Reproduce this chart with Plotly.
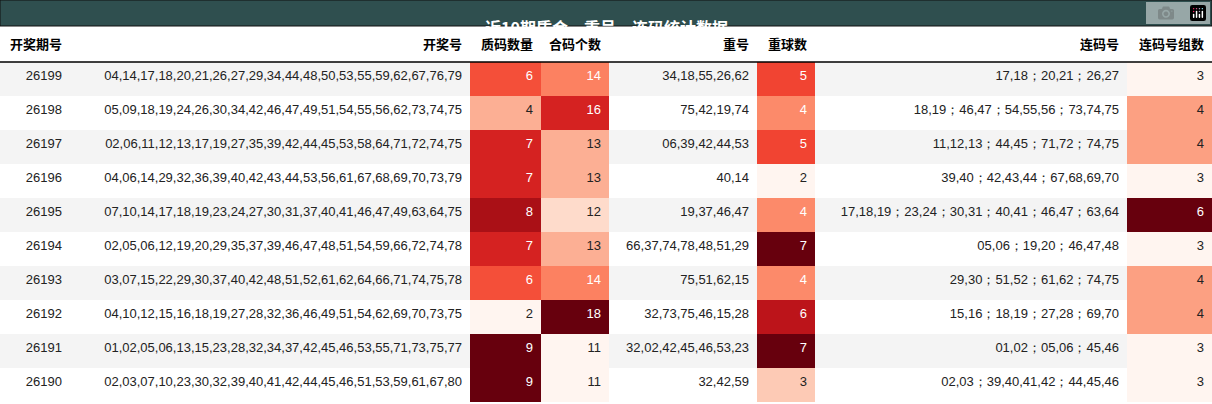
import plotly.graph_objects as go
from plotly.colors import sample_colorscale

# --- Data ---
periods = ["26199", "26198", "26197", "26196", "26195", "26194", "26193", "26192", "26191", "26190"]
draws = [
    "04,14,17,18,20,21,26,27,29,34,44,48,50,53,55,59,62,67,76,79",
    "05,09,18,19,24,26,30,34,42,46,47,49,51,54,55,56,62,73,74,75",
    "02,06,11,12,13,17,19,27,35,39,42,44,45,53,58,64,71,72,74,75",
    "04,06,14,29,32,36,39,40,42,43,44,53,56,61,67,68,69,70,73,79",
    "07,10,14,17,18,19,23,24,27,30,31,37,40,41,46,47,49,63,64,75",
    "02,05,06,12,19,20,29,35,37,39,46,47,48,51,54,59,66,72,74,78",
    "03,07,15,22,29,30,37,40,42,48,51,52,61,62,64,66,71,74,75,78",
    "04,10,12,15,16,18,19,27,28,32,36,46,49,51,54,62,69,70,73,75",
    "01,02,05,06,13,15,23,28,32,34,37,42,45,46,53,55,71,73,75,77",
    "02,03,07,10,23,30,32,39,40,41,42,44,45,46,51,53,59,61,67,80",
]
prime_count = [6, 4, 7, 7, 8, 7, 6, 2, 9, 9]
composite_count = [14, 16, 13, 13, 12, 13, 14, 18, 11, 11]
repeats = ["34,18,55,26,62", "75,42,19,74", "06,39,42,44,53", "40,14", "19,37,46,47",
           "66,37,74,78,48,51,29", "75,51,62,15", "32,73,75,46,15,28", "32,02,42,45,46,53,23", "32,42,59"]
repeat_count = [5, 4, 5, 2, 4, 7, 4, 6, 7, 3]
consecutive = [
    "17,18；20,21；26,27",
    "18,19；46,47；54,55,56；73,74,75",
    "11,12,13；44,45；71,72；74,75",
    "39,40；42,43,44；67,68,69,70",
    "17,18,19；23,24；30,31；40,41；46,47；63,64",
    "05,06；19,20；46,47,48",
    "29,30；51,52；61,62；74,75",
    "15,16；18,19；27,28；69,70",
    "01,02；05,06；45,46",
    "02,03；39,40,41,42；44,45,46",
]
consecutive_groups = [3, 4, 4, 3, 6, 3, 4, 4, 3, 3]
headers = ["开奖期号", "开奖号", "质码数量", "合码个数", "重号", "重球数", "连码号", "连码号组数"]

rows_bg = ["#f4f4f4" if i % 2 == 0 else "#ffffff" for i in range(len(periods))]


def heat(vals):
    lo, hi = min(vals), max(vals)
    t = [(v - lo) / (hi - lo) for v in vals]
    fills = sample_colorscale("Reds", t)
    fonts = ["#ffffff" if x >= 0.4 else "#222222" for x in t]
    return fills, fonts


cols = [periods, draws, prime_count, composite_count, repeats, repeat_count, consecutive, consecutive_groups]
fills, fonts = [], []
for c in cols:
    if isinstance(c[0], int):
        f, fc = heat(c)
    else:
        f, fc = rows_bg, ["#222222"] * len(c)
    fills.append(f)
    fonts.append(fc)

fig = go.Figure(go.Table(
    columnwidth=[70, 400, 71, 68, 148, 58, 312, 85],
    header=dict(
        values=[f"<b>{h}</b>" for h in headers],
        fill_color="#ffffff",
        line=dict(width=0, color="#ffffff"),
        align="right",
        height=36,
        font=dict(family="Noto Sans CJK SC", size=13, color="#000000"),
    ),
    cells=dict(
        values=cols,
        fill_color=fills,
        line=dict(width=0, color=fills),
        align="right",
        height=34,
        font=dict(family="Liberation Sans", size=13, color=fonts),
    ),
    domain=dict(x=[0, 1], y=[0, 378 / 404]),
))

fig.add_shape(type="rect", xref="paper", yref="paper", x0=0, x1=1, y0=378 / 404, y1=1,
              fillcolor="#2f4f4f", line=dict(color="#111111", width=1))
fig.add_shape(type="line", xref="paper", yref="paper", x0=0, x1=1, y0=342 / 404, y1=342 / 404,
              line=dict(color="#000000", width=1.5))
fig.add_annotation(text="<b>近10期质合，重号，连码统计数据</b>", xref="paper", yref="paper",
                   x=0.5, y=391 / 404, showarrow=False,
                   font=dict(family="Noto Sans CJK SC", size=16, color="#ffffff"))

fig.update_layout(width=1212, height=404, margin=dict(l=0, r=0, t=0, b=0),
                  paper_bgcolor="#ffffff")

fig.write_html("out.html",
               post_script="document.body.style.margin='0';document.body.style.overflow='hidden';")
